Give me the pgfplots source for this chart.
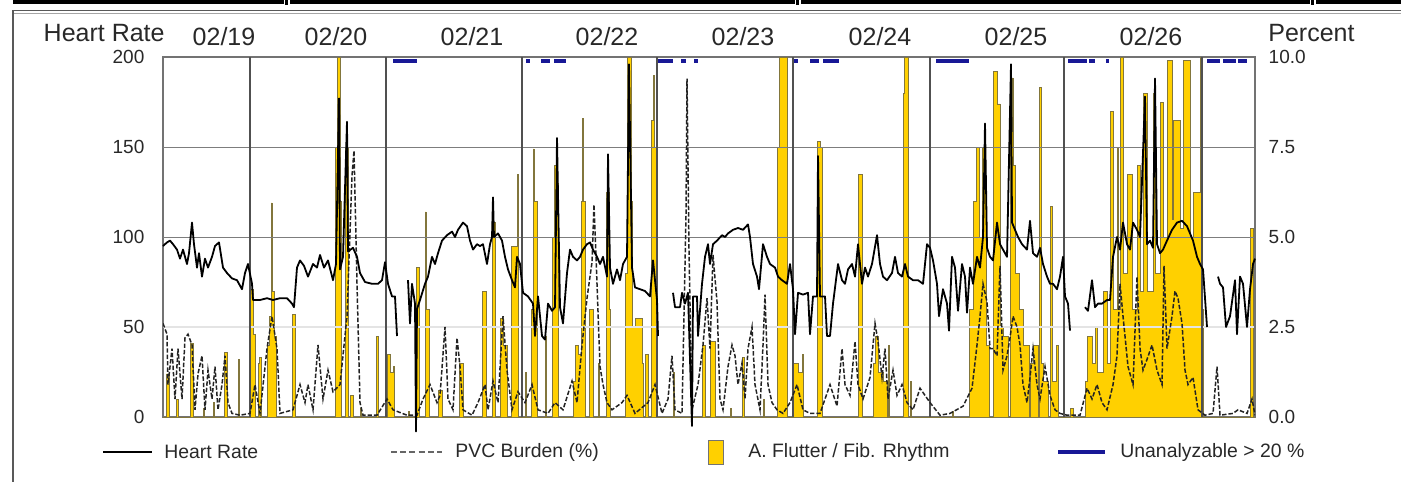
\documentclass[border=0pt]{standalone}
\usepackage{fontspec}
\setmainfont{Liberation Sans}
\usepackage{pgfplots}
\pgfplotsset{compat=1.18}
\definecolor{afyel}{RGB}{255,208,0}
\definecolor{afedge}{RGB}{130,118,60}
\definecolor{navyb}{RGB}{24,24,150}
\definecolor{dayline}{RGB}{80,80,80}
\definecolor{hgrid}{RGB}{125,125,125}
\definecolor{lgrid}{RGB}{228,228,228}
\definecolor{framec}{RGB}{115,115,115}
\definecolor{txt}{RGB}{40,40,40}
\definecolor{pvc}{RGB}{35,35,35}
\newcommand\tickfont{\fontsize{9.5}{11}\selectfont}
\newcommand\bigfont{\fontsize{12.5}{14}\selectfont}
\newcommand\legfont{\fontsize{9.7}{11}\selectfont}
\pgfplotsset{
  base/.style={at={(81.5pt,-208.5pt)}, anchor=south west, scale only axis,
    width=546pt, height=180pt, xmin=0, xmax=1092, major tick length=0pt, xtick=\empty},
}
\begin{document}
\begin{tikzpicture}
\begin{scope}[x=0.5pt,y=-0.5pt]
\useasboundingbox (0,0) rectangle (1401,482);
% surrounding frame pieces
\fill[black] (13,0) rectangle (284,3.5);
\fill[black] (285,0) rectangle (288,5);
\fill[black] (290,0) rectangle (795,3.5);
\fill[black] (796,0) rectangle (799,5);
\fill[black] (801,0) rectangle (1310,3.5);
\fill[black] (1311,0) rectangle (1314,5);
\fill[black] (1316,0) rectangle (1401,3.5);
\draw[black!65, line width=0.6pt] (12,10.5) -- (1401,10.5);
\draw[black!35, line width=0.5pt] (12,13) -- (1401,13);
\draw[black!65, line width=1pt] (13,10.5) -- (13,482);
% titles
\node[anchor=base east, inner sep=0, font=\bigfont, text=txt] at (165,41) {Heart Rate};
\node[anchor=base west, inner sep=0, font=\bigfont, text=txt] at (1268,41) {Percent};
\node[anchor=base, inner sep=0, font=\bigfont, text=txt] at (224,45) {02/19};
\node[anchor=base, inner sep=0, font=\bigfont, text=txt] at (336,45) {02/20};
\node[anchor=base, inner sep=0, font=\bigfont, text=txt] at (472,45) {02/21};
\node[anchor=base, inner sep=0, font=\bigfont, text=txt] at (607,45) {02/22};
\node[anchor=base, inner sep=0, font=\bigfont, text=txt] at (743,45) {02/23};
\node[anchor=base, inner sep=0, font=\bigfont, text=txt] at (880,45) {02/24};
\node[anchor=base, inner sep=0, font=\bigfont, text=txt] at (1016,45) {02/25};
\node[anchor=base, inner sep=0, font=\bigfont, text=txt] at (1151,45) {02/26};
\end{scope}

% ---------- axis 1: AF rhythm + grid ----------
\begin{axis}[base, ymin=0, ymax=200,
  ytick={0,50,100,150,200}, yticklabels={0,50,100,150,200},
  yticklabel style={font=\tickfont, text=txt, xshift=-5.8pt},
  axis line style={draw=framec, line width=0.6pt}]
\addplot[const plot, fill=afyel, draw=afedge, line width=0.25pt] coordinates {
(0,0)(3,24)(6,0)(13,10)(15,0)(27,41)(30,0)(40,5)(41,0)(50,8)(51,0)(61,36)(64,0)(75,32)(76,0)
(87,71)(90,46)(92,0)(95,30)(96,33)(98,0)(104,40)(106,56)(108,119)(109,70)(111,45)(113,0)
(129,57)(132,0)(172,150)(174,200)(177,120)(178,0)(182,150)(185,0)(187,12)(190,0)(197,5)(198,0)
(213,45)(215,0)(224,35)(227,25)(230,28)(231,0)(245,3)(246,0)(253,83)(256,0)(262,114)(263,60)(266,0)
(275,15)(279,0)(296,30)(300,0)(319,70)(323,0)(329,108)(332,0)(337,55)(340,40)(344,0)
(348,95)(354,135)(355,0)(362,25)(363,0)(368,60)(370,149)(371,120)(374,0)(382,45)(383,0)
(389,100)(391,140)(393,130)(395,0)(410,20)(412,40)(415,35)(418,120)(419,166)(420,120)(422,0)
(426,60)(430,0)(435,30)(436,0)(443,125)(446,60)(447,0)(462,80)(464,200)(468,120)(469,50)
(472,55)(479,30)(480,0)(482,35)(485,0)(488,165)(490,190)(491,150)(493,0)(510,25)(511,0)
(539,40)(542,0)(547,42)(552,0)(567,5)(568,0)(579,33)(581,0)(600,10)(601,0)
(614,150)(616,200)(624,0)(630,30)(635,25)(639,35)(640,0)(654,153)(657,150)(659,0)
(695,135)(699,0)(710,30)(712,45)(715,25)(720,20)(724,0)(725,40)(726,0)
(740,180)(741,200)(745,0)(747,20)(748,0)(789,3)(790,0)
(806,60)(810,120)(813,150)(816,100)(819,150)(821,130)(823,40)(826,0)
(830,192)(834,174)(837,50)(840,45)(845,0)(847,159)(849,188)(850,140)(852,80)(856,60)(860,40)(866,0)
(867,30)(870,40)(875,0)(876,183)(878,30)(880,20)(885,0)(887,117)(889,20)(893,40)(895,0)
(907,5)(910,0)(922,20)(924,45)(929,30)(932,50)(934,25)(940,70)(944,30)(947,170)(950,60)
(954,150)(955,60)(957,200)(960,80)(964,135)(969,60)(974,140)(977,70)(980,180)(984,70)
(990,180)(992,80)(997,175)(1000,100)(1004,198)(1009,110)(1010,165)(1017,105)(1020,198)
(1027,100)(1030,125)(1037,200)(1039,60)(1040,0)(1087,105)(1090,0)(1092,0)
} \closedcycle;
% grid lines (drawn over the fill, as in the reference)
\draw[lgrid, line width=0.6pt] (axis cs:0,50) -- (axis cs:1092,50);
\draw[hgrid, line width=0.5pt] (axis cs:0,100) -- (axis cs:1092,100);
\draw[hgrid, line width=0.5pt] (axis cs:0,150) -- (axis cs:1092,150);
\draw[dayline, line width=0.7pt] (axis cs:87,0) -- (axis cs:87,200);
\draw[dayline, line width=0.7pt] (axis cs:223,0) -- (axis cs:223,200);
\draw[dayline, line width=0.7pt] (axis cs:359,0) -- (axis cs:359,200);
\draw[dayline, line width=0.7pt] (axis cs:494,0) -- (axis cs:494,200);
\draw[dayline, line width=0.7pt] (axis cs:630,0) -- (axis cs:630,200);
\draw[dayline, line width=0.7pt] (axis cs:767,0) -- (axis cs:767,200);
\draw[dayline, line width=0.7pt] (axis cs:901,0) -- (axis cs:901,200);
\draw[dayline, line width=0.7pt] (axis cs:1039,0) -- (axis cs:1039,200);
\end{axis}

% ---------- axis 2: PVC burden (right scale) ----------
\begin{axis}[base, ymin=0, ymax=10, axis y line*=right, axis x line=none,
  ytick={0,2.5,5,7.5,10}, yticklabels={0.0,2.5,5.0,7.5,10.0},
  yticklabel style={font=\tickfont, text=txt, xshift=3.3pt},
  axis line style={draw=framec, line width=0.6pt}]
\addplot[pvc, line width=0.75pt, dash pattern=on 2.2pt off 1pt] coordinates {
(0,2.6)(4,2.3)(5,0.9)(9,1.9)(12,0.5)(15,1.9)(19,0.5)(22,2.2)(25,2.3)(29,2.0)(32,0.2)(35,1.2)
(39,1.7)(42,0.2)(45,1.3)(49,0.5)(52,1.4)(55,0.2)(59,0.9)(62,1.7)(65,0.4)(69,0.1)(77,0.05)(87,0.1)
(92,0.9)(97,0.1)(104,1.9)(109,2.8)(114,1.9)(117,0.1)(130,0.2)(137,0.9)(142,0.4)(145,0.9)(150,0.2)
(155,2.0)(160,0.5)(165,1.3)(170,0.7)(177,0.9)(184,2.8)(189,6.7)(191,7.4)(194,3.7)(197,0.4)(200,0.05)
(214,0.05)(224,0.5)(230,0.2)(244,0.05)(254,0.05)(260,0.5)(267,0.9)(274,0.4)(277,0.6)(282,2.5)(285,0.5)
(290,0.2)(294,2.2)(297,1.4)(300,0.2)(309,0.05)(315,0.4)(322,0.9)(325,0.2)(330,1.0)(335,0.4)(340,2.8)
(344,1.3)(349,0.2)(355,0.7)(362,0.4)(369,0.9)(375,0.2)(385,0.1)(392,0.4)(400,0.2)(409,1.0)(414,0.4)
(419,2.0)(424,3.3)(429,4.3)(431,5.9)(434,3.7)(437,1.4)(440,0.9)(444,0.4)(449,0.2)(459,0.4)(464,0.6)
(472,0.1)(485,0.4)(492,0.9)(499,0.1)(505,0.5)(509,1.7)(512,0.2)(519,0.1)(523,5.6)(524,9.4)(526,4.6)
(529,0.2)(535,0.9)(540,2.0)(544,3.3)(547,1.9)(550,4.5)(554,3.2)(557,0.5)(560,0.2)(565,1.4)(569,2.0)
(572,1.7)(575,0.9)(579,1.5)(582,0.5)(585,1.9)(589,2.5)(592,0.9)(597,0.2)(600,2.0)(602,3.4)(605,0.9)
(609,0.4)(614,0.2)(620,0.1)(627,0.4)(634,0.9)(640,0.2)(647,0.1)(657,0.1)(667,0.9)(674,0.3)(679,1.9)
(682,0.9)(687,0.6)(692,2.1)(695,0.9)(700,0.5)(707,1.1)(712,2.6)(715,2.1)(719,1.1)(722,1.9)(725,0.5)
(730,1.3)(734,0.6)(739,0.9)(744,0.4)(750,0.2)(757,0.8)(762,0.6)(767,0.4)(777,0.05)(787,0.1)(800,0.3)
(809,0.8)(814,2.0)(817,2.8)(820,3.7)(824,3.2)(827,1.9)(830,1.9)(834,1.7)(837,4.2)(840,1.3)(844,1.7)
(847,2.2)(850,2.8)(854,2.5)(857,2.0)(860,0.9)(864,0.4)(867,1.1)(870,1.9)(874,0.9)(877,0.5)(882,1.4)
(887,0.6)(892,0.2)(897,0.1)(904,0.05)(917,0.05)(924,0.8)(929,0.5)(934,0.9)(939,0.4)(944,0.2)(950,0.9)
(954,1.7)(957,3.7)(960,2.8)(965,1.4)(970,0.9)(974,3.9)(977,1.9)(980,1.3)(984,1.6)(989,2.0)(994,1.3)
(999,0.9)(1001,4.2)(1004,1.9)(1009,2.8)(1012,3.5)(1015,3.3)(1019,2.6)(1022,1.3)(1025,0.9)(1030,1.1)
(1035,0.2)(1042,0.05)(1050,0.1)(1054,1.4)(1057,0.05)(1070,0.1)(1075,0.2)(1084,0.1)(1089,0.5)(1092,0.05)
};
\end{axis}

% ---------- axis 3: heart rate + unanalyzable ----------
\begin{axis}[base, ymin=0, ymax=200, hide axis, clip=false, unbounded coords=jump]
\addplot[black, line width=0.9pt, line join=round] coordinates {
(0,95)(4,97)(7,98)(10,96)(14,93)(17,88)(20,93)(24,85)(26,91)(29,108)(31,96)(34,83)(36,91)(39,78)
(42,88)(45,83)(49,89)(52,95)(56,97)(60,83)(64,80)(69,77)(74,76)(79,71)(82,80)(85,85)(89,74)(90,65)
(97,65)(104,66)(110,65)(117,66)(124,66)(129,63)(131,61)(134,83)(137,87)(141,84)(145,78)(150,85)
(154,83)(157,90)(161,83)(165,87)(170,76)(173,85)(176,177)(177,82)(180,89)(184,164)(185,92)(190,94)
(194,89)(197,80)(202,75)(209,74)(215,74)(219,76)(222,86)(225,74)(229,67)(232,67)(234,45)(238,nan)
(245,76)(247,52)(249,74)(252,63)(253,-8)(254,60)(257,65)(262,74)(265,78)(269,89)(272,85)(275,91)
(279,98)(284,101)(289,103)(292,100)(295,104)(300,108)(304,106)(307,98)(310,93)(314,96)(317,95)
(320,96)(324,85)(327,96)(329,100)(330,122)(331,100)(335,102)(339,98)(342,89)(345,82)(349,76)(352,72)
(354,89)(357,85)(360,69)(365,67)(370,63)(372,45)(375,67)(379,45)(382,43)(385,63)(389,59)(392,61)
(394,155)(397,61)(400,52)(404,80)(407,93)(410,89)(414,87)(417,89)(420,93)(424,96)(427,97)(430,93)
(434,89)(437,85)(440,89)(444,78)(445,146)(447,83)(450,74)(454,82)(457,76)(460,85)(464,89)(466,196)
(469,83)(472,72)(477,71)(482,70)(487,67)(490,87)(494,65)(495,45)(500,nan)(510,69)(512,61)(517,61)
(519,69)(522,63)(525,69)(529,-5)(530,67)(534,67)(535,45)(539,74)(542,89)(545,96)(547,85)(550,96)
(554,98)(559,101)(562,100)(565,102)(570,104)(575,105)(580,104)(585,107)(587,100)(590,85)(594,78)
(596,71)(600,96)(604,89)(607,85)(612,83)(615,78)(619,76)(624,74)(627,85)(630,71)(632,46)(635,69)
(640,68)(645,69)(647,46)(650,67)(654,67)(655,145)(657,67)(662,67)(664,45)(667,45)(670,63)(675,85)
(679,76)(682,74)(685,82)(689,85)(692,78)(695,96)(699,74)(702,83)(705,78)(709,85)(714,101)(717,85)
(720,78)(724,76)(729,80)(732,89)(735,80)(739,78)(742,85)(745,78)(750,76)(755,76)(760,74)(764,96)
(767,94)(770,87)(774,74)(776,56)(780,71)(784,63)(786,48)(789,89)(792,83)(795,59)(799,85)(802,78)
(804,58)(807,83)(810,74)(814,89)(817,83)(820,100)(822,163)(824,94)(827,89)(830,87)(834,108)(837,96)
(840,93)(844,89)(848,196)(849,108)(852,104)(855,100)(859,96)(864,93)(867,109)(870,91)(874,89)
(877,94)(880,85)(884,78)(887,74)(890,74)(894,71)(897,78)(900,89)(902,67)(905,63)(907,48)(914,nan)
(922,61)(925,59)(929,76)(932,61)(935,63)(939,63)(944,65)(947,65)(950,89)(954,100)(957,93)(960,108)
(964,96)(967,93)(970,108)(974,104)(977,100)(982,178)(984,96)(987,98)(990,94)(992,188)(994,96)
(997,91)(1000,93)(1004,98)(1009,104)(1014,108)(1019,109)(1024,106)(1027,102)(1030,98)(1034,89)
(1037,85)(1040,82)(1044,50)(1050,nan)(1055,78)(1057,74)(1060,72)(1063,50)(1067,56)(1072,76)
(1074,46)(1077,78)(1080,74)(1084,50)(1087,71)(1090,85)(1092,88)
};
\addplot[navyb, line width=2pt] coordinates {
(230,198)(254,198)(300,nan)(363,198)(367,198)(370,nan)(378,198)(387,198)(389,nan)(391,198)(403,198)
(450,nan)(495,198)(510,198)(514,nan)(518,198)(523,198)(527,nan)(531,198)(535,198)(600,nan)
(631,198)(635,198)(640,nan)(647,198)(656,198)(658,nan)(660,198)(676,198)(700,nan)(773,198)(806,198)
(850,nan)(905,198)(924,198)(924.5,nan)(926,198)(932,198)(936,nan)(943,198)(946,198)(1000,nan)
(1044,198)(1057,198)(1058,nan)(1060,198)(1073,198)(1074,nan)(1075,198)(1084,198)
};
\end{axis}

% ---------- legend ----------
\begin{scope}[x=0.5pt,y=-0.5pt]
\draw[black, line width=0.8pt] (103,452) -- (152,452);
\node[anchor=west, inner sep=0, font=\legfont, text=txt] at (164,452) {Heart Rate};
\draw[black!60, line width=0.6pt, dash pattern=on 3pt off 1.6pt] (391,452) -- (442,452);
\node[anchor=west, inner sep=0, font=\legfont, text=txt] at (455,452) {PVC Burden (\%)};
\filldraw[fill=afyel, draw=black!55, line width=0.5pt] (708,440) rectangle (723,464);
\node[anchor=west, inner sep=0, font=\legfont, text=txt] at (748,452) {A. Flutter / Fib. Rhythm};
\draw[navyb, line width=2pt] (1058,452) -- (1105,452);
\node[anchor=west, inner sep=0, font=\legfont, text=txt] at (1120,452) {Unanalyzable > 20 \%};
\end{scope}
\end{tikzpicture}
\end{document}
